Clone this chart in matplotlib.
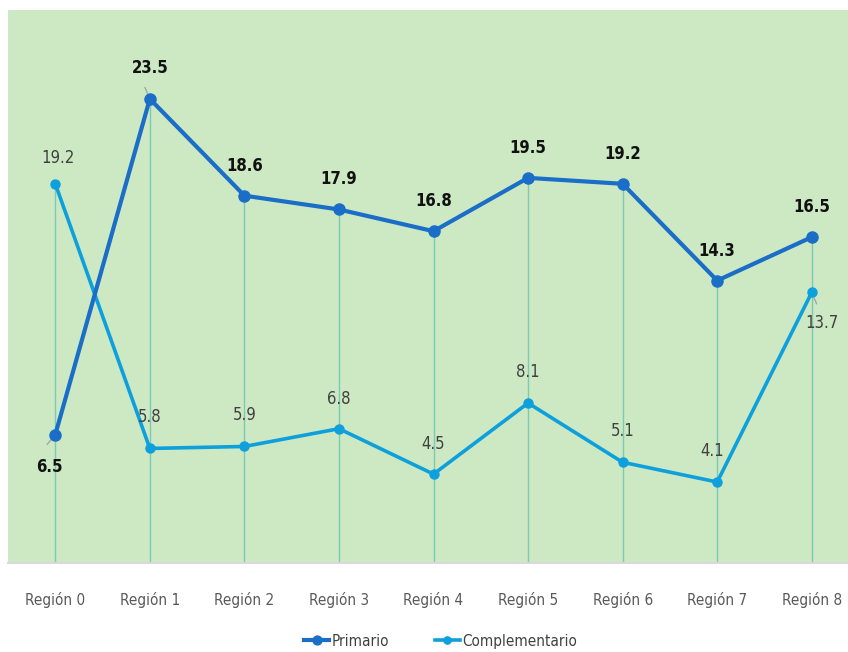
import matplotlib.pyplot as plt
import numpy as np

plt.rcParams['font.family'] = ['DejaVu Sans Condensed', 'Liberation Sans Narrow', 'DejaVu Sans']
plt.rcParams['font.stretch'] = 'condensed'

regiones = ['Región 0', 'Región 1', 'Región 2', 'Región 3', 'Región 4',
            'Región 5', 'Región 6', 'Región 7', 'Región 8']
primario = [6.5, 23.5, 18.6, 17.9, 16.8, 19.5, 19.2, 14.3, 16.5]
complementario = [19.2, 5.8, 5.9, 6.8, 4.5, 8.1, 5.1, 4.1, 13.7]

c_prim = '#1b6ec8'
c_comp = '#0ea0dc'
bg = '#cde9c3'

fig = plt.figure(figsize=(8.48, 6.52), dpi=100)
ax = fig.add_axes([8/848, 89/652, 1 - 8/848 + 0.013, 553/652])
ax.set_facecolor(bg)

x = np.arange(len(regiones))
top = np.maximum(primario, complementario)
ax.vlines(x, 0, top, color='#7ccab6', lw=1.0, zorder=1)

ax.plot(x, primario, color=c_prim, lw=3.0, marker='o', ms=8, label='Primario', zorder=3)
ax.plot(x, complementario, color=c_comp, lw=2.6, marker='o', ms=6.5, label='Complementario', zorder=2)

# offsets in pixels for labels (dx, dy)
off_p = [(-6, -32), (0, 31), (0, 30), (0, 30), (0, 30), (0, 30), (0, 30), (0, 30), (0, 30)]
off_c = [(3, 26), (0, 31), (0, 31), (0, 30), (0, 30), (0, 31), (0, 31), (-5, 31), (10, -31)]
leader_p = {0: (-10, -12), 1: (-6, 14)}
leader_c = {8: (6, -14)}

for i, v in enumerate(primario):
    ax.annotate(f'{v}', (x[i], v), xytext=off_p[i], textcoords='offset pixels',
                ha='center', va='center', fontsize=12, fontweight='bold', color='#111111')
    if i in leader_p:
        ax.annotate('', (x[i], v), xytext=leader_p[i], textcoords='offset pixels',
                    arrowprops=dict(arrowstyle='-', color='#a6a6a6', lw=1.0), zorder=2)
for i, v in enumerate(complementario):
    ax.annotate(f'{v}', (x[i], v), xytext=off_c[i], textcoords='offset pixels',
                ha='center', va='center', fontsize=12, color='#404040')
    if i in leader_c:
        ax.annotate('', (x[i], v), xytext=leader_c[i], textcoords='offset pixels',
                    arrowprops=dict(arrowstyle='-', color='#a6a6a6', lw=1.0), zorder=1)

ax.set_xlim(-0.5, 8.5)
ax.set_ylim(0, 28)
ax.set_yticks([])
ax.set_xticks(x)
ax.set_xticklabels(regiones, fontsize=11, color='#595959')
ax.tick_params(axis='x', length=0, pad=21)
for s in ['top', 'right', 'left']:
    ax.spines[s].set_visible(False)
ax.spines['bottom'].set_color('#d9d9d9')
ax.spines['bottom'].set_linewidth(1.5)

fig.legend(loc='lower center', bbox_to_anchor=(0.52, -0.016), ncol=2, frameon=False,
           fontsize=11, labelcolor='#404040', handlelength=1.6, columnspacing=3.0,
           handletextpad=0.2, markerscale=0.8)

fig.savefig('out.png', dpi=100, facecolor='white')
